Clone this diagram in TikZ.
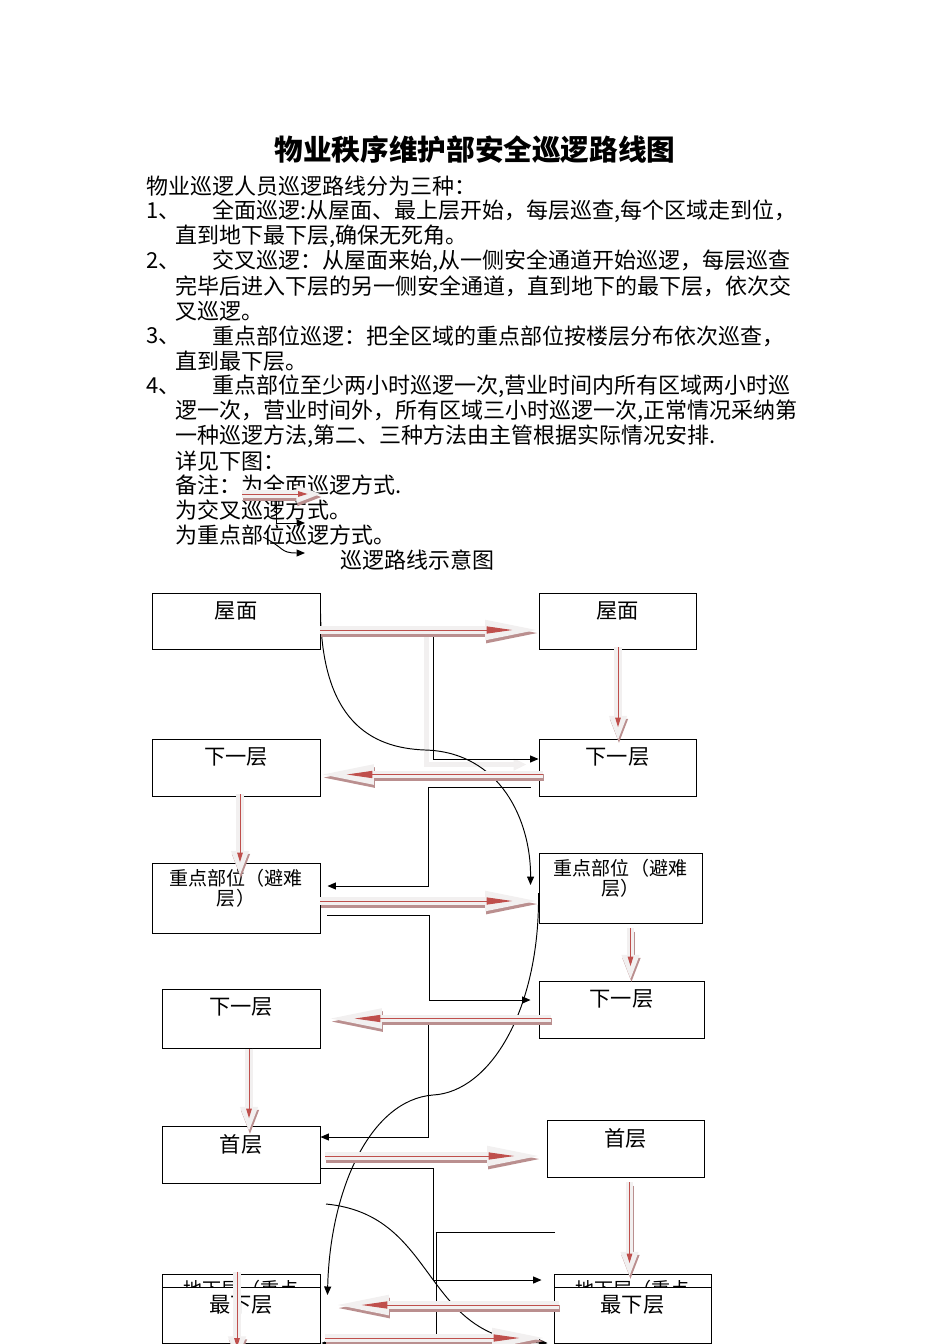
\documentclass[tikz,border=0pt]{standalone}
\usepackage{fontspec}
\setmainfont{Noto Sans CJK SC}
\usepackage{tikz}
\usetikzlibrary{arrows.meta}
\usetikzlibrary{calc}
\definecolor{grisclair}{rgb}{0.95,0.94,0.94}
\definecolor{ombre}{rgb}{0.73,0.56,0.56}
\definecolor{rouge}{rgb}{0.75,0.31,0.30}

\newcommand{\patrol}[3][h]{%
  \draw[patrolshadow, tip#1] #2 -- #3;
  \draw[patrolbody, tip#1] #2 -- #3;
  \draw[patrolline, line#1] #2 -- #3;}

\begin{document}
\begin{tikzpicture}[x=0.625pt, y=-0.625pt, thin]
  \tikzstyle{floor}=[rectangle, draw=black, line width=0.6pt, fill=white, inner sep=0pt]
  \tikzstyle{flabel}=[anchor=center, yshift=-11.6pt, inner sep=0pt, font=\fontsize{13.3}{15}\selectfont]
  \tikzstyle{flabel2}=[anchor=center, yshift=-16.3pt, inner sep=0pt, align=center, font=\fontsize{11.9}{11.25}\selectfont]
  \tikzstyle{flabel3}=[anchor=center, yshift=-10pt, inner sep=0pt, font=\fontsize{11.9}{14}\selectfont]
  \tikzstyle{para}=[anchor=west, inner sep=0pt, font=\fontsize{13.75}{16}\selectfont]
  \tikzstyle{patrolshadow}=[draw=ombre, line width=4.4pt, transform canvas={xshift=0.6pt, yshift=-1.9pt}]
  \tikzstyle{patrolbody}=[draw=grisclair, line width=4.4pt]
  \tikzstyle{patrolline}=[draw=rouge, line width=0.6pt]
  \tikzstyle{tiph}=[-{Triangle[length=34pt, width=11.5pt]}]
  \tikzstyle{tipv}=[-{Triangle[length=16pt, width=10pt]}]
  \tikzstyle{lineh}=[-{Triangle[length=16pt, width=4.4pt]}, shorten >=17pt]
  \tikzstyle{linev}=[-{Triangle[length=6pt, width=3.5pt]}, shorten >=9pt]
  \tikzstyle{cross}=[draw=black, line width=0.6pt, -{Triangle[length=5.3pt, width=4.4pt]}]
  \tikzstyle{crossshade}=[draw=grisclair, line width=3.5pt, -{Triangle[length=8pt, width=7pt]}]

  \useasboundingbox (0,0) rectangle (950,1344);

  % texte
  \node[inner sep=0pt, font=\bfseries\fontsize{17.9}{20}\selectfont] (titre) at (475,150) {物业秩序维护部安全巡逻路线图};
  \node[para] (p0) at (146,186) {物业巡逻人员巡逻路线分为三种：};
  \node[para] (n1) at (146,211) {1、};
  \node[para] (p1) at (212,211) {全面巡逻:从屋面、最上层开始，每层巡查,每个区域走到位，};
  \node[para] (p1b) at (175,236) {直到地下最下层,确保无死角。};
  \node[para] (n2) at (146,261) {2、};
  \node[para] (p2) at (212,261) {交叉巡逻：从屋面来始,从一侧安全通道开始巡逻，每层巡查};
  \node[para] (p2b) at (175,286) {完毕后进入下层的另一侧安全通道，直到地下的最下层，依次交};
  \node[para] (p2c) at (175,311) {叉巡逻。};
  \node[para] (n3) at (146,336) {3、};
  \node[para] (p3) at (212,336) {重点部位巡逻：把全区域的重点部位按楼层分布依次巡查，};
  \node[para] (p3b) at (175,361) {直到最下层。};
  \node[para] (n4) at (146,386) {4、};
  \node[para] (p4) at (212,386) {重点部位至少两小时巡逻一次,营业时间内所有区域两小时巡};
  \node[para] (p4b) at (175,411) {逻一次，营业时间外，所有区域三小时巡逻一次,正常情况采纳第};
  \node[para] (p4c) at (175,436) {一种巡逻方法,第二、三种方法由主管根据实际情况安排.};
  \node[para] (voir) at (175,461) {详见下图：};
  \node[para] (cle1) at (175,485) {备注：为全面巡逻方式.};
  \node[para] (cle2) at (175,510) {为交叉巡逻方式。};
  \node[para] (cle3) at (175,535) {为重点部位巡逻方式。};
  \node[para] (soustitre) at (340,560) {巡逻路线示意图};

  % etages
  \node[floor, minimum width=105pt, minimum height=35pt, label={[flabel]north:屋面}] (L1) at (236,621) {};
  \node[floor, minimum width=105pt, minimum height=35.6pt, label={[flabel]north:下一层}] (L2) at (236,767.5) {};
  \node[floor, minimum width=105pt, minimum height=43.75pt, label={[flabel2]north:{重点部位（避难\\层）}}] (L3) at (236,898) {};
  \node[floor, minimum width=98.75pt, minimum height=36.9pt, label={[flabel]north:下一层}] (L4) at (241,1018.5) {};
  \node[floor, minimum width=98.75pt, minimum height=35.6pt, label={[flabel]north:首层}] (L5) at (241,1154.5) {};
  \node[floor, minimum width=98.75pt, minimum height=43.1pt, label={[flabel3]north:地下层（重点}] (L6b) at (241,1308.5) {};
  \node[floor, minimum width=98.75pt, minimum height=35pt, label={[flabel]north:最下层}] (L6) at (241,1315) {};

  \node[floor, minimum width=98.1pt, minimum height=35pt, label={[flabel]north:屋面}] (R1) at (617.5,621) {};
  \node[floor, minimum width=98.1pt, minimum height=35.6pt, label={[flabel]north:下一层}] (R2) at (617.5,767.5) {};
  \node[floor, minimum width=101.9pt, minimum height=43.75pt, label={[flabel2]north:{重点部位（避难\\层）}}] (R3) at (620.5,888) {};
  \node[floor, minimum width=103.1pt, minimum height=35.6pt, label={[flabel]north:下一层}] (R4) at (621.5,1009.5) {};
  \node[floor, minimum width=98.1pt, minimum height=35.6pt, label={[flabel]north:首层}] (R5) at (625.5,1148.5) {};
  \node[floor, minimum width=98.1pt, minimum height=43.1pt, label={[flabel3]north:地下层（重点}] (R6b) at (632.5,1308.5) {};
  \node[floor, minimum width=98.1pt, minimum height=35pt, label={[flabel]north:最下层}] (R6) at (632.5,1315) {};

  % cle
  \coordinate (K1) at (242,494);
  \coordinate (K2) at (322,494);
  \coordinate (K3) at (243,500);
  \coordinate (K4) at (305,523);
  \coordinate (K5) at (263,537);
  \coordinate (K6) at (305,553);
  \draw[cross] (K3) -- ++(33,0) |- (K4);
  \draw[cross] (K5) .. controls (285,548) and (280,553) .. (K6);
  \patrol[v]{(K1)}{(K2)}

  % trajets croises
  \draw[crossshade] ($(L1.east)+(106,15)$) |- ($(R2.west)+(-12,-3)$);
  \draw[cross] ($(L1.east)+(7,13)$) -- ++(106,0) |- ($(R2.west)+(0,-8.5)$);
  \draw[cross] ($(R2.west)+(-8,19.5)$) -- ++(-102,0) |- ($(L3.east)+(7,-12)$);
  \draw[cross] ($(L3.east)+(7,17)$) -- ++(102,0) |- ($(R4.west)+(-8,-9.5)$);
  \draw[cross] ($(R4.west)+(0,12.5)$) -- ++(-110,0) |- ($(L5.east)+(0,-17.5)$);
  \draw[cross] ($(L5.east)+(0,13.5)$) -- ++(113,0) |- ($(R6b.west)+(-12,-28.5)$);
  \coordinate (D6) at (555,1232);
  \draw[cross] (D6) -- ++(-119,0) |- ($(L6.east)+(1,28)$);

  % points cles
  \draw[cross] ($(L1.east)+(0,-9)$) .. controls (322,720) and (370,748) .. (425,750)
    .. controls (500,752) and (531,820) .. ($(R3.west)+(-8,-3)$);
  \draw[cross] ($(R3.west)+(0,5)$) .. controls (540,1010) and (490,1092) .. (433,1095)
    .. controls (370,1100) and (330,1190) .. ($(L6.east)+(7,-20)$);
  \coordinate (D7) at (326,1204);
  \draw[cross] (D7) .. controls (440,1215) and (420,1340) .. ($(R6.west)+(-6,28)$);

  % ronde complete
  \patrol{($(L1.east)+(0,9)$)}{($(R1.west)+(1,9)$)}
  \patrol[v]{($(R1.south)+(0.5,-2)$)}{($(R2.north)+(0.5,3)$)}
  \patrol{($(R2.west)+(4,7)$)}{($(L2.east)+(-1,7)$)}
  \patrol[v]{($(L2.south)+(4,-2)$)}{($(L3.north)+(4,14)$)}
  \patrol{($(L3.east)+(0,3)$)}{($(R3.west)+(1,13)$)}
  \patrol[v]{($(R3.south)+(10,5)$)}{($(R4.north)+(9,0)$)}
  \patrol{($(R4.west)+(12,9)$)}{($(L4.east)+(7,0)$)}
  \patrol[v]{($(L4.south)+(8,0)$)}{($(L5.north)+(8,7)$)}
  \patrol{($(L5.east)+(5,1.5)$)}{($(R5.west)+(-5,7.5)$)}
  \patrol[v]{($(R5.south)+(4,5)$)}{($(R6b.north)+(-3,4)$)}
  \patrol{($(R6.west)+(5,-10)$)}{($(L6.east)+(14,-10)$)}
  \coordinate (D8) at (237,1362);
  \patrol[v]{($(L6b.north)+(-4,-2)$)}{(D8)}
  \patrol{($(L6.east)+(5,23)$)}{($(R6.west)+(-7,23)$)}

\end{tikzpicture}
\end{document}
